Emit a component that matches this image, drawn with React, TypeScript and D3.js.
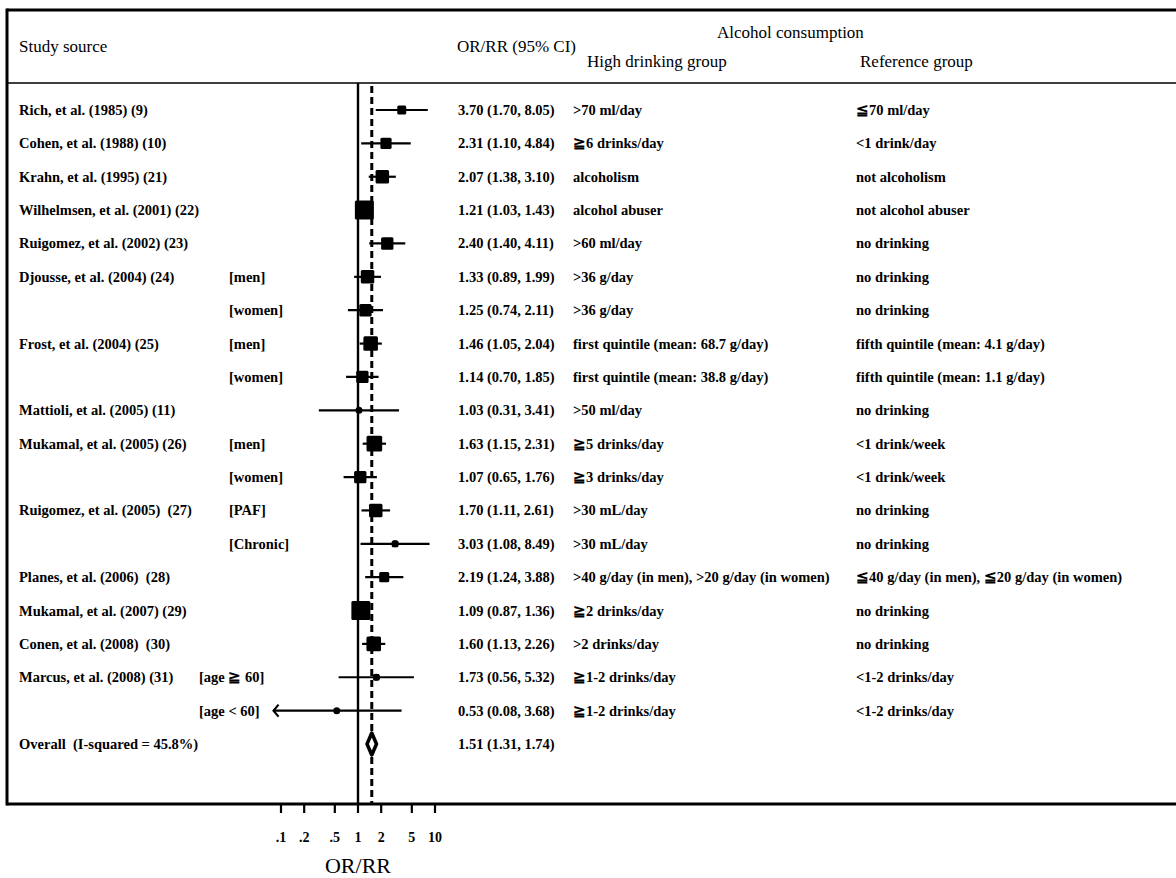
import React from 'react';
import * as d3 from 'd3';

// ---------- data ----------
const studies = [
  'Rich, et al. (1985) (9)',
  'Cohen, et al. (1988) (10)',
  'Krahn, et al. (1995) (21)',
  'Wilhelmsen, et al. (2001) (22)',
  'Ruigomez, et al. (2002) (23)',
  'Djousse, et al. (2004) (24)',
  '',
  'Frost, et al. (2004) (25)',
  '',
  'Mattioli, et al. (2005) (11)',
  'Mukamal, et al. (2005) (26)',
  '',
  'Ruigomez, et al. (2005)  (27)',
  '',
  'Planes, et al. (2006)  (28)',
  'Mukamal, et al. (2007) (29)',
  'Conen, et al. (2008)  (30)',
  'Marcus, et al. (2008) (31)',
  '',
];
const subgroups = [
  '', '', '', '', '', '[men]', '[women]', '[men]', '[women]', '', '[men]', '[women]',
  '[PAF]', '[Chronic]', '', '', '', '[age \u2267 60]', '[age < 60]',
];
const estimates = [3.70, 2.31, 2.07, 1.21, 2.40, 1.33, 1.25, 1.46, 1.14, 1.03, 1.63, 1.07, 1.70, 3.03, 2.19, 1.09, 1.60, 1.73, 0.53];
const lowers = [1.70, 1.10, 1.38, 1.03, 1.40, 0.89, 0.74, 1.05, 0.70, 0.31, 1.15, 0.65, 1.11, 1.08, 1.24, 0.87, 1.13, 0.56, 0.08];
const uppers = [8.05, 4.84, 3.10, 1.43, 4.11, 1.99, 2.11, 2.04, 1.85, 3.41, 2.31, 1.76, 2.61, 8.49, 3.88, 1.36, 2.26, 5.32, 3.68];
const weights = [2.7, 4.2, 6.1, 12.1, 5.1, 6.1, 5.1, 7.1, 5.1, 0.4, 8.2, 5.1, 6.1, 1.5, 3.4, 12.1, 7.1, 1.5, 0.7];
const highGroup = [
  '>70 ml/day', '\u22676 drinks/day', 'alcoholism', 'alcohol abuser', '>60 ml/day',
  '>36 g/day', '>36 g/day', 'first quintile (mean: 68.7 g/day)', 'first quintile (mean: 38.8 g/day)',
  '>50 ml/day', '\u22675 drinks/day', '\u22673 drinks/day', '>30 mL/day', '>30 mL/day',
  '>40 g/day (in men), >20 g/day (in women)', '\u22672 drinks/day', '>2 drinks/day',
  '\u22671-2 drinks/day', '\u22671-2 drinks/day',
];
const refGroup = [
  '\u226670 ml/day', '<1 drink/day', 'not alcoholism', 'not alcohol abuser', 'no drinking',
  'no drinking', 'no drinking', 'fifth quintile (mean: 4.1 g/day)', 'fifth quintile (mean: 1.1 g/day)',
  'no drinking', '<1 drink/week', '<1 drink/week', 'no drinking', 'no drinking',
  '\u226640 g/day (in men), \u226620 g/day (in women)', 'no drinking', 'no drinking',
  '<1-2 drinks/day', '<1-2 drinks/day',
];
const overallLabel = 'Overall  (I-squared = 45.8%)';
const overallEst = 1.51;
const overallLo = 1.31;
const overallHi = 1.74;
const tickValues = [0.1, 0.2, 0.5, 1, 2, 5, 10];
const tickLabels = ['.1', '.2', '.5', '1', '2', '5', '10'];

// ---------- layout ----------
const W = 1176;
const H = 878;
const boxLeft = 7;
const boxTop = 10;
const headerLine = 83;
const boxBottom = 804;
const serif = '"Liberation Serif", "DejaVu Serif", serif';

const fmt = (v: number) => v.toFixed(2);

export default function App() {
  const x = d3.scaleLog().domain([0.1, 10]).range([281, 435]);
  const y = d3.scaleLinear().domain([0, 19]).range([110, 744]);
  const size = d3.scaleSqrt().domain([0, 12.1]).range([0, 19]);
  const nRows = estimates.length;

  const rowText = {
    fontFamily: serif, fontSize: 14.5, fontWeight: 700 as const, fill: '#000',
    style: { whiteSpace: 'pre' as const },
  };
  const headText = { fontFamily: serif, fontSize: 17, fill: '#000' };

  const oy = y(nRows);
  const diamond = d3.line()([
    [x(overallLo), oy],
    [x(overallEst), oy - 11],
    [x(overallHi), oy],
    [x(overallEst), oy + 11],
  ]) + 'Z';

  return (
    <svg width={W} height={H} style={{ position: 'absolute', left: 0, top: 0, background: '#fff' }}>
      <rect x={0} y={0} width={W} height={H} fill="#fff" />
      {/* frame */}
      <line x1={boxLeft} x2={W} y1={boxTop} y2={boxTop} stroke="#000" strokeWidth={3} />
      <line x1={boxLeft} x2={W} y1={headerLine} y2={headerLine} stroke="#000" strokeWidth={1.5} />
      <line x1={boxLeft} x2={W} y1={boxBottom} y2={boxBottom} stroke="#000" strokeWidth={3} />
      <line x1={boxLeft} x2={boxLeft} y1={boxTop - 1.5} y2={boxBottom + 1.5} stroke="#000" strokeWidth={3} />

      {/* header */}
      <text x={19} y={52} {...headText}>Study source</text>
      <text x={457} y={52} {...headText}>OR/RR (95% CI)</text>
      <text x={717} y={38} {...headText}>Alcohol consumption</text>
      <text x={587} y={67} {...headText}>High drinking group</text>
      <text x={860} y={67} {...headText}>Reference group</text>

      {/* reference lines */}
      <line x1={x(1)} x2={x(1)} y1={headerLine} y2={boxBottom} stroke="#000" strokeWidth={2.4} />
      <line x1={x(overallEst)} x2={x(overallEst)} y1={headerLine + 3} y2={boxBottom}
        stroke="#000" strokeWidth={3} strokeDasharray="7 4" />

      {/* rows */}
      {estimates.map((est, i) => {
        const cy = y(i);
        const lo = lowers[i];
        const hi = uppers[i];
        const s = size(weights[i]);
        const clipped = lo < 0.1;
        const x0 = x(lo);
        return (
          <g key={i}>
            <text x={19} y={cy + 5} {...rowText}>{studies[i]}</text>
            {subgroups[i] && (
              <text x={i >= 17 ? 199 : 229} y={cy + 5} {...rowText}>{subgroups[i]}</text>
            )}
            <line x1={x0} x2={x(hi)} y1={cy} y2={cy} stroke="#000" strokeWidth={2.2} />
            {clipped && (
              <path d={`M${x0 + 5},${cy - 6} L${x0},${cy} L${x0 + 5},${cy + 6}`} fill="none" stroke="#000" strokeWidth={2.2} />
            )}
            <rect x={x(est) - s / 2} y={cy - s / 2} width={s} height={s} rx={1.5} fill="#000" />
            <circle cx={x(est)} cy={cy} r={3.5} fill="#000" />
            <text x={458} y={cy + 5} {...rowText}>{`${fmt(est)} (${fmt(lo)}, ${fmt(hi)})`}</text>
            <text x={573} y={cy + 5} {...rowText}>{highGroup[i]}</text>
            <text x={856} y={cy + 5} {...rowText}>{refGroup[i]}</text>
          </g>
        );
      })}

      {/* overall */}
      <text x={19} y={oy + 5} {...rowText}>{overallLabel}</text>
      <path d={diamond} fill="#fff" stroke="#000" strokeWidth={3.5} strokeLinejoin="round" />
      <text x={458} y={oy + 5} {...rowText}>{`${fmt(overallEst)} (${fmt(overallLo)}, ${fmt(overallHi)})`}</text>

      {/* axis */}
      {tickValues.map((t, i) => (
        <g key={t}>
          <line x1={x(t)} x2={x(t)} y1={boxBottom} y2={boxBottom + 9} stroke="#000" strokeWidth={2.2} />
          <text x={x(t)} y={842} textAnchor="middle" fontFamily={serif} fontSize={14} fontWeight={700}>{tickLabels[i]}</text>
        </g>
      ))}
      <text x={x(1)} y={873} textAnchor="middle" fontFamily={serif} fontSize={22}>OR/RR</text>
    </svg>
  );
}
